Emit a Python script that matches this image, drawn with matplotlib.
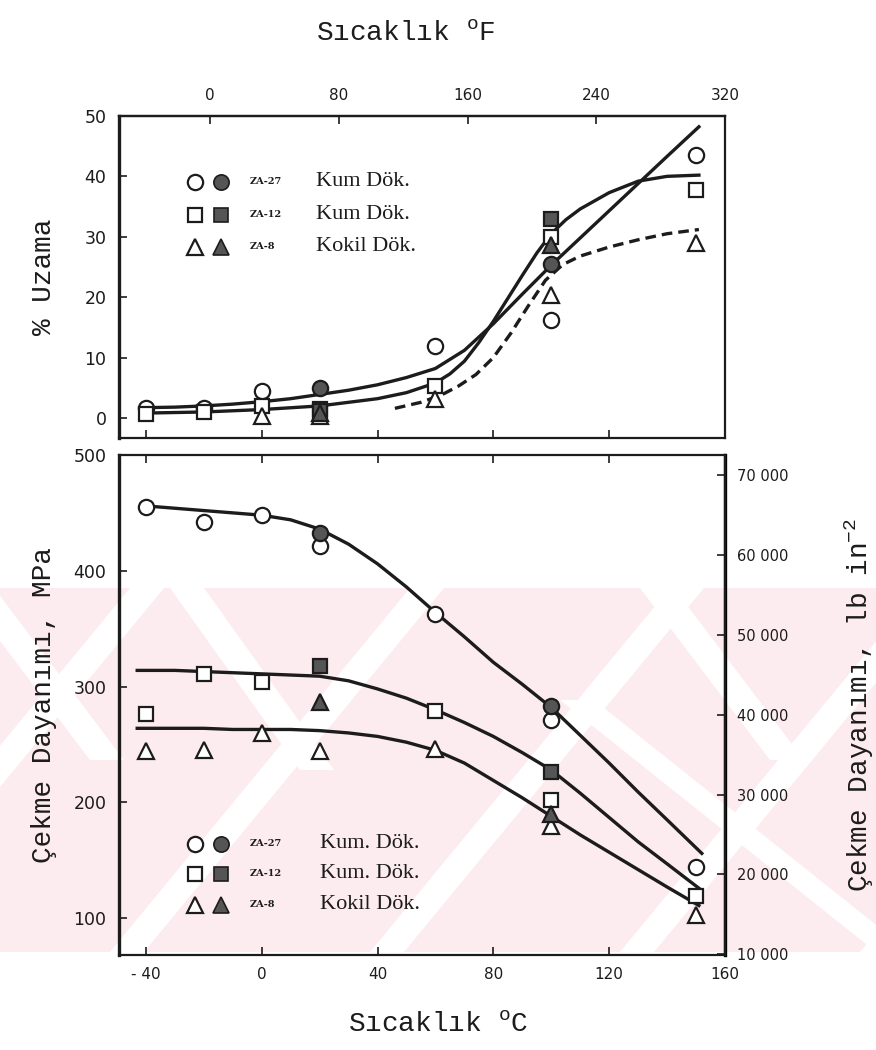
import matplotlib
matplotlib.use("Agg")
import matplotlib.pyplot as plt
from matplotlib.patches import Polygon, Rectangle
from matplotlib.ticker import FuncFormatter

plt.rcParams['mathtext.fontset'] = 'custom'
plt.rcParams['mathtext.rm'] = 'Liberation Mono'

# --- % elongation (upper panel) -------------------------------------------
uz27_open_t = [-40, -20, 0, 60, 100, 150]
uz27_open_v = [1.7, 1.6, 4.4, 12.0, 16.3, 43.5]
uz27_fill_t = [20, 100]
uz27_fill_v = [4.9, 25.5]
uz12_open_t = [-40, -20, 0, 20, 60, 100, 150]
uz12_open_v = [0.6, 1.0, 2.0, 1.5, 5.3, 30.0, 37.8]
uz12_fill_t = [20, 100]
uz12_fill_v = [1.2, 33.0]
uz8_open_t = [0, 20, 60, 100, 150]
uz8_open_v = [0.3, 0.4, 3.2, 20.3, 29.0]
uz8_fill_t = [20, 100]
uz8_fill_v = [0.8, 28.6]

uz27_fit_t = [-42, -30, -20, -10, 0, 10, 20, 30, 40, 50, 60, 70, 80, 90, 100, 110, 120, 130, 140, 151]
uz27_fit_v = [1.7, 1.8, 2.0, 2.3, 2.7, 3.2, 3.9, 4.6, 5.5, 6.7, 8.2, 11.2, 15.6, 20.5, 25.3, 29.8, 34.3, 38.8, 43.3, 48.2]
uz12_fit_t = [-42, -20, 0, 20, 40, 50, 60, 65, 70, 75, 80, 85, 90, 95, 100, 105, 110, 120, 130, 140, 151]
uz12_fit_v = [0.8, 1.0, 1.4, 2.0, 3.2, 4.2, 5.8, 7.3, 9.4, 12.5, 16.0, 19.8, 23.6, 27.3, 30.5, 32.8, 34.6, 37.3, 39.2, 40.0, 40.2]
uz8_fit_t = [46, 55, 62, 68, 74, 80, 86, 92, 98, 104, 110, 120, 130, 140, 151]
uz8_fit_v = [1.6, 2.6, 3.8, 5.3, 7.2, 10.0, 14.0, 18.5, 22.8, 25.4, 26.8, 28.3, 29.5, 30.5, 31.2]

# --- tensile strength, MPa (lower panel) ----------------------------------
ts27_open_t = [-40, -20, 0, 20, 60, 100, 150]
ts27_open_v = [455, 442, 448, 421, 363, 271, 144]
ts27_fill_t = [20, 100]
ts27_fill_v = [433, 283]
ts12_open_t = [-40, -20, 0, 60, 100, 150]
ts12_open_v = [276, 311, 304, 279, 202, 119]
ts12_fill_t = [20, 100]
ts12_fill_v = [318, 226]
ts8_open_t = [-40, -20, 0, 20, 60, 100, 150]
ts8_open_v = [244, 245, 260, 244, 246, 180, 103]
ts8_fill_t = [20, 100]
ts8_fill_v = [287, 190]

ts27_fit_t = [-40, -30, -20, -10, 0, 10, 20, 30, 40, 50, 60, 70, 80, 90, 100, 110, 120, 130, 140, 152]
ts27_fit_v = [456, 454, 452, 450, 448, 444, 436, 423, 406, 386, 364, 343, 321, 302, 282, 258, 234, 209, 185, 156]
ts12_fit_t = [-43, -30, -20, -10, 0, 10, 20, 30, 40, 50, 60, 70, 80, 90, 100, 110, 120, 130, 140, 152]
ts12_fit_v = [314, 314, 313, 312, 311, 310, 309, 305, 298, 290, 280, 269, 257, 243, 228, 208, 187, 166, 147, 124]
ts8_fit_t = [-43, -30, -20, -10, 0, 10, 20, 30, 40, 50, 60, 70, 80, 90, 100, 110, 120, 130, 140, 151]
ts8_fit_v = [264, 264, 264, 263, 263, 263, 262, 260, 257, 252, 245, 234, 219, 204, 188, 172, 157, 142, 127, 111]

c_ticks = [-40, 0, 40, 80, 120, 160]
f_ticks = [0, 80, 160, 240, 320]
uz_ticks = [0, 10, 20, 30, 40, 50]
mpa_ticks = [100, 200, 300, 400, 500]
psi_ticks = [10000, 20000, 30000, 40000, 50000, 60000, 70000]

legend_top = [('ZA-27', 'Kum Dök.'), ('ZA-12', 'Kum Dök.'), ('ZA-8', 'Kokil Dök.')]
legend_bot = [('ZA-27', 'Kum. Dök.'), ('ZA-12', 'Kum. Dök.'), ('ZA-8', 'Kokil Dök.')]

INK = '#1c1c1c'
FILL = '#555555'
LW = 2.4
label_font = dict(family='Liberation Mono', fontsize=20, color=INK)

fig = plt.figure(figsize=(8.76, 10.5), dpi=100)

# pale pink band with white diagonal stripes behind the lower panel
bg = fig.add_axes([0, 0, 1, 1], zorder=-5)
bg.set_xlim(0, 876)
bg.set_ylim(1050, 0)
bg.axis('off')
bg.add_patch(Rectangle((0, 588), 876, 364, color='#fdecef', lw=0))


def stripe(x_top, x_bot, y_top, y_bot, w=34):
    bg.add_patch(Polygon([(x_top, y_top), (x_top + w, y_top), (x_bot + w, y_bot), (x_bot, y_bot)],
                         closed=True, color='white', lw=0))


# rising stripes
for xb in [-170, 110, 370, 620, 860]:
    stripe(xb + 300, xb, 588, 952)
# falling stripes forming the chevrons
stripe(-40, 90, 588, 760)
stripe(170, 300, 588, 770)
stripe(640, 770, 588, 760)
stripe(560, 876, 700, 952)

ax1 = fig.add_axes([0.1358, 0.5829, 0.6918, 0.3067])
ax2 = fig.add_axes([0.1358, 0.0905, 0.6918, 0.4762])


def style(ax):
    ax.set_facecolor('none')
    for s in ax.spines.values():
        s.set_linewidth(1.6)
        s.set_color(INK)
    ax.spines['left'].set_linewidth(2.4)
    ax.tick_params(direction='in', length=6, width=1.2, color=INK, labelcolor=INK)


def markers(ax, t, v, shape, filled, size):
    ax.plot(t, v, ls='none', marker=shape, ms=size, mec=INK, mew=1.6,
            mfc=FILL if filled else 'white', zorder=4)


def legend(ax, rows, ys, x_txt):
    shapes = [('o', 11), ('s', 10), ('^', 11)]
    for (code, name), y, (m, s) in zip(rows, ys, shapes):
        ax.plot([0.125], [y], transform=ax.transAxes, marker=m, ms=s, mec=INK, mew=1.6, mfc='white', ls='none')
        ax.plot([0.168], [y], transform=ax.transAxes, marker=m, ms=s, mec=INK, mew=1.2, mfc=FILL, ls='none')
        ax.text(0.215, y, code, transform=ax.transAxes, fontsize=7, fontweight='bold',
                family='DejaVu Serif', va='center', color=INK)
        ax.text(x_txt, y, name, transform=ax.transAxes, fontsize=16, family='Liberation Serif',
                va='center', color=INK)


# upper panel: elongation
style(ax1)
ax1.plot(uz27_fit_t, uz27_fit_v, color=INK, lw=LW, zorder=3)
ax1.plot(uz12_fit_t, uz12_fit_v, color=INK, lw=LW, zorder=3)
ax1.plot(uz8_fit_t, uz8_fit_v, color=INK, lw=LW, ls=(0, (3.2, 1.8)), zorder=3)
markers(ax1, uz27_open_t, uz27_open_v, 'o', False, 11)
markers(ax1, uz27_fill_t, uz27_fill_v, 'o', True, 11)
markers(ax1, uz12_open_t, uz12_open_v, 's', False, 10)
markers(ax1, uz12_fill_t, uz12_fill_v, 's', True, 10)
markers(ax1, uz8_open_t, uz8_open_v, '^', False, 11)
markers(ax1, uz8_fill_t, uz8_fill_v, '^', True, 11)
ax1.set_xlim(-49.3, 160)
ax1.set_ylim(-3.3, 50)
ax1.set_xticks(c_ticks[:-1])
ax1.set_xticklabels([])
ax1.set_yticks(uz_ticks)
ax1.tick_params(axis='y', labelsize=12.5, pad=9)
secx = ax1.secondary_xaxis('top', functions=(lambda c: c * 9 / 5 + 32, lambda f: (f - 32) * 5 / 9))
secx.set_xticks(f_ticks)
secx.tick_params(direction='in', length=6, width=1.2, labelsize=11, pad=9, color=INK, labelcolor=INK)
secx.spines['top'].set_linewidth(1.6)
legend(ax1, legend_top, [0.795, 0.693, 0.593], 0.325)
ax1.set_ylabel('% Uzama', labelpad=20, **label_font)

# lower panel: tensile strength
style(ax2)
ax2.plot(ts27_fit_t, ts27_fit_v, color=INK, lw=LW, zorder=3)
ax2.plot(ts12_fit_t, ts12_fit_v, color=INK, lw=LW, zorder=3)
ax2.plot(ts8_fit_t, ts8_fit_v, color=INK, lw=LW, zorder=3)
markers(ax2, ts27_open_t, ts27_open_v, 'o', False, 11)
markers(ax2, ts27_fill_t, ts27_fill_v, 'o', True, 11)
markers(ax2, ts12_open_t, ts12_open_v, 's', False, 10)
markers(ax2, ts12_fill_t, ts12_fill_v, 's', True, 10)
markers(ax2, ts8_open_t, ts8_open_v, '^', False, 11)
markers(ax2, ts8_fill_t, ts8_fill_v, '^', True, 11)
ax2.set_xlim(-49.3, 160)
ax2.set_ylim(68.3, 500)
ax2.set_xticks(c_ticks)
ax2.set_xticklabels(['- 40', '0', '40', '80', '120', '160'])
ax2.tick_params(axis='x', top=True, labeltop=False, labelsize=11, pad=9)
ax2.set_yticks(mpa_ticks)
ax2.tick_params(axis='y', labelsize=12.5, pad=9)
secy = ax2.secondary_yaxis('right', functions=(lambda m: m * 145.038, lambda p: p / 145.038))
secy.set_yticks(psi_ticks)
secy.yaxis.set_major_formatter(FuncFormatter(lambda v, p: f"{int(round(v / 1000))} 000"))
secy.tick_params(direction='in', length=6, width=1.2, labelsize=10.5, pad=9, color=INK, labelcolor=INK)
secy.spines['right'].set_linewidth(2.4)
legend(ax2, legend_bot, [0.222, 0.162, 0.100], 0.332)
ax2.set_ylabel('Çekme Dayanımı, MPa', labelpad=12, **label_font)
secy.set_ylabel('Çekme Dayanımı, lb in$^{-2}$', labelpad=38, **label_font)

fig.text(0.463, 0.968, 'Sıcaklık $^{\\mathrm{o}}$F', ha='center', va='center', **label_font)
fig.text(0.50, 0.024, 'Sıcaklık $^{\\mathrm{o}}$C', ha='center', va='center', **label_font)

fig.savefig('out.png', dpi=100)
